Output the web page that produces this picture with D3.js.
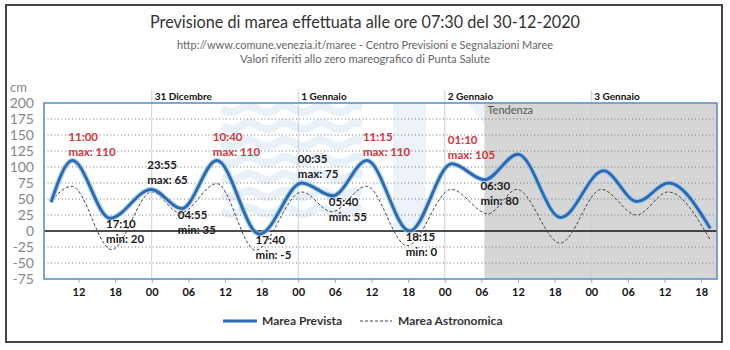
<!DOCTYPE html>
<html><head><meta charset="utf-8">
<script src="https://cdn.jsdelivr.net/npm/d3@7/dist/d3.min.js"></script>
<style>body{margin:0;background:#fff}svg{display:block}text{font-family:Lato,"Open Sans",sans-serif}</style>
</head><body><svg id="c" width="730" height="350"></svg>
<script>
// ---- data ----
const titleText = "Previsione di marea effettuata alle ore 07:30 del 30-12-2020";
const subtitle1 = "http://www.comune.venezia.it/maree - Centro Previsioni e Segnalazioni Maree";
const subtitle2 = "Valori riferiti allo zero mareografico di Punta Salute";
const seriesNames = ["Marea Prevista", "Marea Astronomica"];
const previstaTimes = ["2020-12-30 07:30","2020-12-30 11:00","2020-12-30 17:10","2020-12-30 23:55","2020-12-31 04:55","2020-12-31 10:40","2020-12-31 17:40","2021-01-01 00:35","2021-01-01 05:40","2021-01-01 11:15","2021-01-01 18:15","2021-01-02 01:10","2021-01-02 06:30","2021-01-02 12:00","2021-01-02 19:00","2021-01-03 02:00","2021-01-03 07:30","2021-01-03 12:40","2021-01-03 19:30"];
const previstaValues = [45,110,20,65,35,110,-5,75,55,110,0,105,80,120,21,94,46,75,4];
const astroTimes = ["2020-12-30 07:30","2020-12-30 10:55","2020-12-30 17:25","2020-12-31 00:00","2020-12-31 04:40","2020-12-31 10:40","2020-12-31 17:00","2021-01-01 00:35","2021-01-01 05:30","2021-01-01 11:10","2021-01-01 17:50","2021-01-02 01:05","2021-01-02 07:05","2021-01-02 11:50","2021-01-02 18:55","2021-01-03 01:40","2021-01-03 07:25","2021-01-03 12:35","2021-01-03 19:30"];
const astroValues = [47,70,-29,61,28,74,-30,61,30,70,-23,65,27,65,-19,65,25,61,-14];
const dayLabels = ["31 Dicembre","1 Gennaio","2 Gennaio","3 Gennaio"];
const dayStarts = ["2020-12-31 00:00","2021-01-01 00:00","2021-01-02 00:00","2021-01-03 00:00"];
const yTicks = [-75,-50,-25,0,25,50,75,100,125,150,175,200];
const xDomain = ["2020-12-30 06:21","2021-01-03 20:36"];
const tendenzaStart = "2021-01-02 06:30";
const alertLevel = 100;

// ---- drawing ----
const parse = d3.timeParse("%Y-%m-%d %H:%M");
const svg = d3.select("#c");
const L = 44, R = 717, T = 103, B = 279;
const x = d3.scaleTime().domain(xDomain.map(parse)).range([L, R]);
const y = d3.scaleLinear().domain([-75, 200]).range([B, T]);

const prev = previstaTimes.map((t, i) => ({t: parse(t), v: previstaValues[i]}));
const astro = astroTimes.map((t, i) => ({t: parse(t), v: astroValues[i]}));
const tStart = parse(tendenzaStart);

// outer frame
svg.append("rect").attr("x", 6).attr("y", 5).attr("width", 716).attr("height", 337)
  .attr("fill", "#fff").attr("stroke", "#444").attr("stroke-width", 2);

// titles
svg.append("text").attr("x", 365).attr("y", 28).attr("text-anchor", "middle")
  .attr("font-size", 17).attr("fill", "#333").attr("textLength", 430).attr("lengthAdjust", "spacingAndGlyphs").text(titleText);
svg.append("text").attr("x", 365).attr("y", 49).attr("text-anchor", "middle")
  .attr("font-size", 11).attr("fill", "#666").attr("textLength", 376).attr("lengthAdjust", "spacingAndGlyphs").text(subtitle1);
svg.append("text").attr("x", 365).attr("y", 63).attr("text-anchor", "middle")
  .attr("font-size", 11).attr("fill", "#666").attr("textLength", 250).attr("lengthAdjust", "spacingAndGlyphs").text(subtitle2);

// watermark (decorative)
const wm = svg.append("g").attr("fill", "none").attr("stroke", "#e8f0f8");
for (let i = 0; i < 7; i++) {
  const y0 = 109 + i * 17;
  const pts = d3.range(222, 364, 2).map(px => [px, y0 + 3 * Math.sin((px - 222) / 36 * 2 * Math.PI)]);
  wm.append("path").attr("d", d3.line()(pts)).attr("stroke-width", 8);
}
svg.append("rect").attr("x", 393).attr("y", 104).attr("width", 33).attr("height", 126).attr("fill", "#edf3f9");
svg.append("path").attr("d", "M430,104 L468,104 L505,150 L505,104 Z").attr("fill", "#edf3f9");

// tendenza area
svg.append("rect").attr("x", x(tStart)).attr("y", T).attr("width", R - x(tStart)).attr("height", B - T).attr("fill", "#d6d6d6");
svg.append("text").attr("x", x(tStart) + 3).attr("y", 114).attr("font-size", 11).attr("fill", "#555").text("Tendenza");

// grid
svg.append("g").selectAll("line").data(yTicks.filter(v => v !== 0 && v !== 200 && v !== -75)).join("line")
  .attr("x1", L).attr("x2", R).attr("y1", d => y(d)).attr("y2", d => y(d))
  .attr("stroke", "#777").attr("stroke-width", 1).attr("stroke-dasharray", "1,2.5");

// day lines + labels
const days = dayStarts.map(parse);
svg.append("g").selectAll("line").data(days).join("line")
  .attr("x1", d => x(d)).attr("x2", d => x(d)).attr("y1", 90).attr("y2", B)
  .attr("stroke", "#c6d0da").attr("stroke-width", 1);
svg.append("g").selectAll("text").data(days).join("text")
  .attr("x", d => x(d) + 3).attr("y", 100).attr("font-size", 10).attr("font-weight", "bold").attr("fill", "#111")
  .text((d, i) => dayLabels[i]);

// y axis labels
svg.append("g").selectAll("text").data(yTicks).join("text")
  .attr("x", 34).attr("y", d => y(d) + 5).attr("text-anchor", "end").attr("font-size", 14).attr("fill", "#888").text(d => d);
svg.append("text").attr("x", 10).attr("y", 92).attr("font-size", 13).attr("fill", "#888").text("cm");

// x axis
const xAxis = d3.axisBottom(x).ticks(d3.timeHour.every(6)).tickFormat(d3.timeFormat("%H")).tickSize(4).tickPadding(5);
const gx = svg.append("g").attr("transform", `translate(0,${B})`).call(xAxis);
gx.select(".domain").remove();
gx.selectAll("line").attr("stroke", "#aaa");
gx.selectAll("text").attr("font-size", 11).attr("font-weight", "bold").attr("fill", "#111").attr("font-family", "Lato");

// zero line
svg.append("line").attr("x1", L).attr("x2", R).attr("y1", y(0)).attr("y2", y(0)).attr("stroke", "#111").attr("stroke-width", 1.6);

// plot border
svg.append("rect").attr("x", L).attr("y", T).attr("width", R - L).attr("height", B - T)
  .attr("fill", "none").attr("stroke", "#5d93cc").attr("stroke-width", 1.6);

// series
const line = d3.line().x(d => x(d.t)).y(d => y(d.v)).curve(d3.curveMonotoneX);
svg.append("path").attr("d", line(astro)).attr("fill", "none").attr("stroke", "#444").attr("stroke-width", 1).attr("stroke-dasharray", "3,2");
svg.append("path").attr("d", line(prev)).attr("fill", "none").attr("stroke", "#a8c9ea").attr("stroke-width", 5.5).attr("opacity", 0.7);
svg.append("path").attr("d", line(prev)).attr("fill", "none").attr("stroke", "#2a6cb3").attr("stroke-width", 3);

// extreme labels
const fmt = d3.timeFormat("%H:%M");
const labelled = prev.map((d, i) => ({...d, i})).filter(d => d.i > 0 && d.i < prev.length - 1 && d.t <= tStart);
const lg = svg.append("g").attr("font-size", 11.5).attr("font-weight", "bold");
labelled.forEach(d => {
  const isMax = d.v > prev[d.i - 1].v;
  const col = (isMax && d.v >= alertLevel) ? "#d7333a" : "#1a1a1a";
  const px = x(d.t) - 4, py = y(d.v);
  const y1 = isMax ? py - 20 : py + 10, y2 = isMax ? py - 5 : py + 25;
  lg.append("text").attr("x", px).attr("y", y1).attr("fill", col).text(fmt(d.t));
  lg.append("text").attr("x", px).attr("y", y2).attr("fill", col).text((isMax ? "max: " : "min: ") + d.v);
});

// legend
svg.append("line").attr("x1", 223).attr("x2", 257).attr("y1", 321).attr("y2", 321).attr("stroke", "#2a6cb3").attr("stroke-width", 3);
svg.append("text").attr("x", 262).attr("y", 325).attr("font-size", 12).attr("font-weight", "bold").attr("fill", "#333").text(seriesNames[0]);
svg.append("line").attr("x1", 360).attr("x2", 392).attr("y1", 321).attr("y2", 321).attr("stroke", "#444").attr("stroke-width", 1).attr("stroke-dasharray", "3,2");
svg.append("text").attr("x", 398).attr("y", 325).attr("font-size", 12).attr("font-weight", "bold").attr("fill", "#333").text(seriesNames[1]);
</script></body></html>
